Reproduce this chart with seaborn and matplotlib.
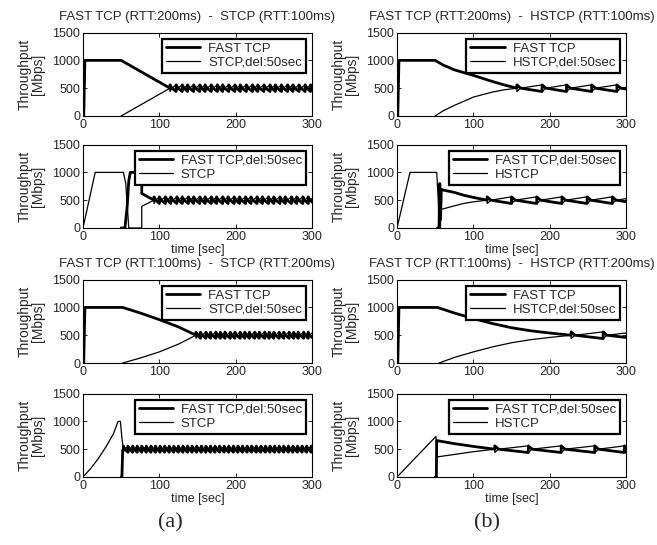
import matplotlib
matplotlib.use('agg')
import numpy as np
import matplotlib.pyplot as plt
import seaborn as sns

sns.set_style('ticks')
plt.rcParams['font.family'] = ['Liberation Sans', 'DejaVu Sans']
plt.rcParams['xtick.direction'] = 'in'
plt.rcParams['ytick.direction'] = 'in'
plt.rcParams['xtick.top'] = True
plt.rcParams['ytick.right'] = True

# ---- data (time [sec], throughput [Mbps]) ----
# (a) top: FAST TCP (RTT 200) vs STCP (RTT 100), STCP starts at 50 s
a1_fast_t = [1, 2.5, 50, 114]
a1_fast_y = [0, 1000, 1000, 500]
a1_other_t = [50, 114]
a1_other_y = [0, 500]
a1_loss = [114, 122, 130, 137, 145, 153, 160, 168, 176, 183, 191, 199, 206,
           214, 222, 229, 237, 245, 252, 260, 268, 275, 283, 291, 298]

# (a) 2nd: FAST TCP starts at 50 s
a2_fast_t = [50, 55, 58, 60, 62, 77, 77, 93]
a2_fast_y = [0, 0, 400, 850, 1000, 1000, 620, 500]
a2_other_t = [0, 16, 53, 56, 58, 60, 77, 77, 93]
a2_other_y = [0, 1000, 1000, 800, 400, 0, 0, 390, 500]
a2_loss = [93, 100, 108, 115, 123, 130, 138, 145, 153, 160, 168, 175, 183,
           190, 198, 205, 213, 220, 228, 235, 243, 250, 258, 265, 273, 280,
           288, 295]

# (a) 3rd: FAST TCP (RTT 100) vs STCP (RTT 200)
a3_fast_t = [1, 2.5, 52, 75, 100, 125, 148]
a3_fast_y = [0, 1000, 1000, 900, 780, 650, 500]
a3_other_t = [52, 75, 100, 125, 148]
a3_other_y = [0, 90, 200, 340, 500]
a3_loss = [148, 154, 161, 167, 174, 180, 186, 193, 199, 206, 212, 218, 225,
           231, 238, 244, 250, 257, 263, 270, 276, 282, 289, 295]

# (a) bottom
a4_fast_t = [50, 51, 52, 53]
a4_fast_y = [0, 0, 480, 500]
a4_other_t = [0, 10, 20, 30, 40, 46, 49, 51, 53]
a4_other_y = [0, 150, 330, 540, 780, 1000, 1000, 700, 500]
a4_loss = [53, 59, 65, 71, 77, 83, 89, 95, 101, 107, 113, 119, 125, 131, 137,
           143, 149, 155, 161, 167, 173, 179, 185, 191, 197, 203, 209, 215,
           221, 227, 233, 239, 245, 251, 257, 263, 269, 275, 281, 287, 293, 299]

# (b) top: FAST TCP (RTT 200) vs HSTCP (RTT 100)
b1_fast_t = [1, 2.5, 50, 60, 75, 100, 125, 140, 157]
b1_fast_y = [0, 1000, 1000, 920, 830, 730, 620, 560, 500]
b1_other_t = [50, 60, 75, 100, 125, 140, 157]
b1_other_y = [0, 90, 190, 340, 430, 470, 500]
b1_loss = [157, 190, 222, 255, 288]

# (b) 2nd
b2_fast_t = [53, 55, 56, 57, 58, 75, 87, 100, 118]
b2_fast_y = [0, 0, 800, 150, 690, 640, 590, 550, 500]
b2_other_t = [0, 17, 52, 54, 55, 57, 57, 70, 87, 100, 118]
b2_other_y = [0, 1000, 1000, 500, 0, 0, 330, 380, 440, 470, 500]
b2_loss = [118, 150, 183, 216, 249, 282]

# (b) 3rd: FAST TCP (RTT 100) vs HSTCP (RTT 200)
b3_fast_t = [1, 2.5, 53, 75, 100, 125, 150, 175, 200, 228]
b3_fast_y = [0, 1000, 1000, 900, 800, 710, 635, 580, 540, 500]
b3_other_t = [55, 75, 100, 125, 150, 175, 200, 228]
b3_other_y = [0, 100, 200, 290, 365, 420, 460, 500]
b3_loss = [228, 270]

# (b) bottom
b4_fast_t = [50, 51.5, 52, 75, 100, 128]
b4_fast_y = [0, 0, 655, 600, 550, 500]
b4_other_t = [0, 51, 52, 75, 100, 128]
b4_other_y = [0, 730, 360, 405, 455, 500]
b4_loss = [128, 172, 215, 259, 298]

titles = {
    'a1': 'FAST TCP (RTT:200ms)  -  STCP (RTT:100ms)',
    'b1': 'FAST TCP (RTT:200ms)  -  HSTCP (RTT:100ms)',
    'a3': 'FAST TCP (RTT:100ms)  -  STCP (RTT:200ms)',
    'b3': 'FAST TCP (RTT:100ms)  -  HSTCP (RTT:200ms)',
}


def add_osc(t, y, loss, hi, lo, cross, up, t_end=300, mid=500):
    # sawtooth after convergence, built from the loss instants
    t, y = list(t), list(y)
    top, bot = (hi, lo) if up else (lo, hi)
    for i, tk in enumerate(loss):
        start = mid if i == 0 else bot
        t += [tk, tk, tk + cross]
        y += [start, top, mid]
        if i + 1 < len(loss):
            t.append(loss[i + 1]); y.append(bot)
        else:
            per = loss[i] - loss[i - 1] if i > 0 else 40
            f = min(1.0, (t_end - tk - cross) / (per - cross))
            t.append(t_end); y.append(mid + (bot - mid) * f)
    return t, y


panels = [
    # key, col, row, fast data, other data, loss, labels, hi, lo, cross
    ('a1', 0, 0, a1_fast_t, a1_fast_y, a1_other_t, a1_other_y, a1_loss, 'FAST TCP', 'STCP,del:50sec', 560, 440, 2.5),
    ('a2', 0, 1, a2_fast_t, a2_fast_y, a2_other_t, a2_other_y, a2_loss, 'FAST TCP,del:50sec', 'STCP', 560, 440, 2.5),
    ('a3', 0, 2, a3_fast_t, a3_fast_y, a3_other_t, a3_other_y, a3_loss, 'FAST TCP', 'STCP,del:50sec', 555, 445, 2.0),
    ('a4', 0, 3, a4_fast_t, a4_fast_y, a4_other_t, a4_other_y, a4_loss, 'FAST TCP,del:50sec', 'STCP', 555, 445, 2.0),
    ('b1', 1, 0, b1_fast_t, b1_fast_y, b1_other_t, b1_other_y, b1_loss, 'FAST TCP', 'HSTCP,del:50sec', 560, 440, 5),
    ('b2', 1, 1, b2_fast_t, b2_fast_y, b2_other_t, b2_other_y, b2_loss, 'FAST TCP,del:50sec', 'HSTCP', 560, 440, 5),
    ('b3', 1, 2, b3_fast_t, b3_fast_y, b3_other_t, b3_other_y, b3_loss, 'FAST TCP', 'HSTCP,del:50sec', 560, 440, 5),
    ('b4', 1, 3, b4_fast_t, b4_fast_y, b4_other_t, b4_other_y, b4_loss, 'FAST TCP,del:50sec', 'HSTCP', 560, 440, 5),
]

fig = plt.figure(figsize=(6.57, 5.45), dpi=100)
lefts = [0.1263, 0.6043]
bottoms = [0.7872, 0.5817, 0.3339, 0.1248]
w, h = 0.3486, 0.1530

for key, col, row, ft, fy, ot, oy, loss, lab_f, lab_o, hi, lo, cross in panels:
    ax = fig.add_axes([lefts[col], bottoms[row], w, h])
    ft2, fy2 = add_osc(ft, fy, loss, hi, lo, cross, up=True)
    ot2, oy2 = add_osc(ot, oy, loss, hi, lo, cross, up=False)
    sns.lineplot(x=ft2, y=fy2, color='black', linewidth=2.0, estimator=None,
                 sort=False, ax=ax, label=lab_f)
    sns.lineplot(x=ot2, y=oy2, color='black', linewidth=0.9, estimator=None,
                 sort=False, ax=ax, label=lab_o)
    ax.set_xlim(0, 300)
    ax.set_ylim(0, 1500)
    ax.set_xticks([0, 100, 200, 300])
    ax.set_yticks([0, 500, 1000, 1500])
    ax.tick_params(labelsize=9, length=3, width=0.7, pad=2)
    for s in ax.spines.values():
        s.set_linewidth(0.8)
        s.set_color('black')
    ax.set_ylabel('Throughput\n[Mbps]', fontsize=10, labelpad=5, linespacing=1.0)
    leg = ax.legend(loc='upper right', fancybox=False, edgecolor='black',
                    framealpha=1, fontsize=9.5, borderpad=0.3, labelspacing=0.15,
                    handlelength=2.6, handletextpad=0.6, borderaxespad=0.45)
    leg.get_frame().set_linewidth(1.6)
    if key in titles:
        ax.set_title(titles[key], fontsize=9.5, pad=9)
    if row in (1, 3):
        ax.set_xlabel('time [sec]', fontsize=9, labelpad=1)

fig.text(0.259, 0.04, '(a)', ha='center', va='center', fontsize=16,
         family=['Liberation Serif', 'DejaVu Serif'])
fig.text(0.741, 0.04, '(b)', ha='center', va='center', fontsize=16,
         family=['Liberation Serif', 'DejaVu Serif'])

fig.savefig('out.png', dpi=100)
